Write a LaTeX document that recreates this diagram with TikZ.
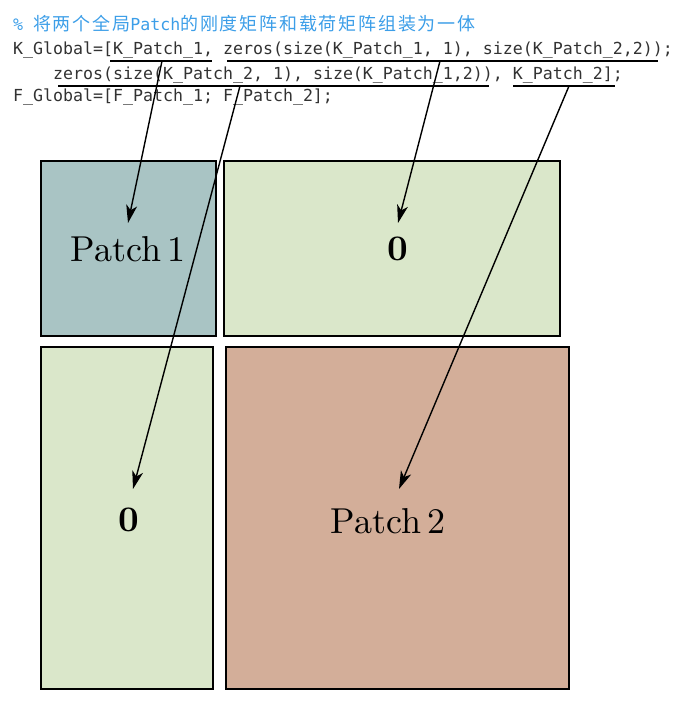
\documentclass[tikz,border=0pt]{standalone}
\usepackage{fontspec}
\usetikzlibrary{arrows.meta}
\newfontfamily\codefont{DejaVu Sans Mono}
\newfontfamily\cjk[LetterSpace=10]{Noto Sans CJK SC}
\newfontfamily\lmten{lmroman10-regular}[Extension=.otf, BoldFont=lmroman10-bold]
\definecolor{patchone}{RGB}{169,196,196}
\definecolor{zerogreen}{RGB}{218,231,202}
\definecolor{patchtwo}{RGB}{211,174,153}
\definecolor{codegray}{RGB}{50,50,50}
\definecolor{commentblue}{RGB}{60,158,232}
\tikzset{
  blk/.style={draw=black, line width=1.5pt, anchor=north west, inner sep=0pt, outer sep=0pt},
  code/.style={anchor=base west, inner sep=0pt, font=\codefont\fontsize{16.6}{20}\selectfont, text=codegray},
  uline/.style={line width=1.8pt},
  arr/.style={line width=1.4pt, -{Stealth[length=18pt,width=11pt,inset=5pt]}},
  bigtxt/.style={anchor=base, inner sep=0pt, font=\lmten\fontsize{36}{42}\selectfont}
}
\begin{document}
\begin{tikzpicture}[x=1pt,y=-1pt]
\useasboundingbox (0,0) rectangle (684,711);
% code lines
\node[code, text=commentblue] (cm) at (13,31) {\%~{\cjk\fontsize{18}{20}\selectfont 将两个全局}Patch{\cjk\fontsize{18}{20}\selectfont 的刚度矩阵和载荷矩阵组装为一体}};
\node[code] (l1) at (13,55) {K\_Global=[K\_Patch\_1, zeros(size(K\_Patch\_1, 1), size(K\_Patch\_2,2));};
\node[code] (l2) at (53,80) {zeros(size(K\_Patch\_2, 1), size(K\_Patch\_1,2)), K\_Patch\_2];};
\node[code] (l3) at (13,102) {F\_Global=[F\_Patch\_1; F\_Patch\_2];};
% underlines
\coordinate (u1a) at (110,61); \coordinate (u1b) at (212,61);
\coordinate (u2a) at (227,61); \coordinate (u2b) at (658,61);
\coordinate (u3a) at (58,86);  \coordinate (u3b) at (489,86);
\coordinate (u4a) at (513,86); \coordinate (u4b) at (615,86);
\draw[uline] (u1a) -- (u1b);
\draw[uline] (u2a) -- (u2b);
\draw[uline] (u3a) -- (u3b);
\draw[uline] (u4a) -- (u4b);
% blocks
\node[blk, fill=patchone, minimum width=175pt, minimum height=175pt] (bp1) at (41,161) {};
\node[blk, fill=zerogreen, minimum width=336pt, minimum height=175pt] (bz1) at (224,161) {};
\node[blk, fill=zerogreen, minimum width=172pt, minimum height=342pt] (bz2) at (41,347) {};
\node[blk, fill=patchtwo, minimum width=343pt, minimum height=342pt] (bp2) at (226,347) {};
% labels
\node[bigtxt] (lp1) at (128,261) {Patch\,1};
\node[bigtxt] (lz1) at (398,260) {\textbf{0}};
\node[bigtxt] (lz2) at (129,531) {\textbf{0}};
\node[bigtxt] (lp2) at (388,533) {Patch\,2};
% arrows
\coordinate (s1) at (162,61);  \coordinate (t1) at (128,223);
\coordinate (s2) at (440,61);  \coordinate (t2) at (398,223);
\coordinate (s3) at (240,86);  \coordinate (t3) at (133,489);
\coordinate (s4) at (569,86);  \coordinate (t4) at (399,489);
\draw[arr] (s1) -- (t1);
\draw[arr] (s2) -- (t2);
\draw[arr] (s3) -- (t3);
\draw[arr] (s4) -- (t4);
\end{tikzpicture}
\end{document}
